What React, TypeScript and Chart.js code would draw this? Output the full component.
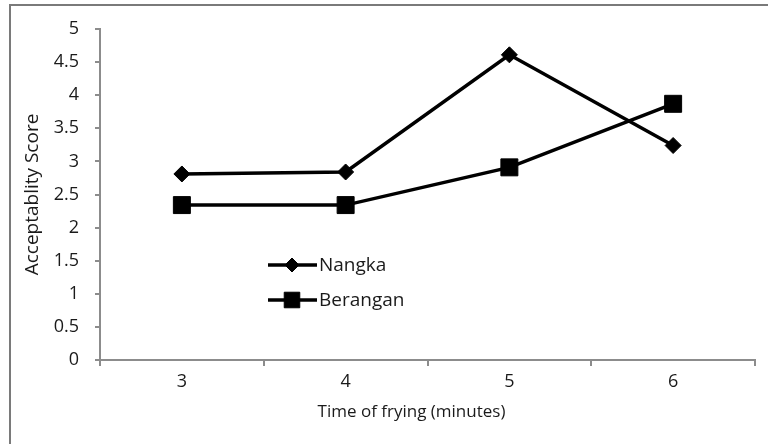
import React, { useEffect, useRef } from "react";
import { Chart, registerables } from "chart.js";

Chart.register(...registerables);

const categories = ["3", "4", "5", "6"];
const nangka = [2.81, 2.84, 4.61, 3.24];
const berangan = [2.34, 2.34, 2.91, 3.87];
const seriesNames = ["Nangka", "Berangan"];
const yTitle = "Acceptablity Score";
const xTitle = "Time of frying (minutes)";

const FONT = "'Open Sans', 'Noto Sans', sans-serif";
const AXIS = "#8c8c8c";
const TEXT = "#1a1a1a";

const framePlugin = {
  id: "frame",
  beforeDraw(chart: any) {
    const ctx = chart.ctx;
    ctx.save();
    ctx.fillStyle = "#ffffff";
    ctx.fillRect(0, 0, chart.width, chart.height);
    ctx.strokeStyle = "#7a7a7a";
    ctx.lineWidth = 2;
    ctx.strokeRect(10, 5, chart.width + 40, chart.height + 40);
    ctx.restore();
  },
};

const xTitlePlugin = {
  id: "xTitleShifted",
  afterDraw(chart: any) {
    const ctx = chart.ctx;
    const area = chart.chartArea;
    ctx.save();
    ctx.fillStyle = TEXT;
    ctx.font = `17px ${FONT}`;
    ctx.textAlign = "center";
    ctx.textBaseline = "middle";
    ctx.fillText(xTitle, (area.left + area.right) / 2 - 16, area.bottom + 52);
    ctx.restore();
  },
};

const legendPlugin = {
  id: "floatLegend",
  afterDraw(chart: any) {
    const ctx = chart.ctx;
    const x0 = 268;
    const rows = [265, 300];
    chart.data.datasets.forEach((ds: any, i: number) => {
      const y = rows[i];
      ctx.save();
      ctx.strokeStyle = ds.borderColor;
      ctx.lineWidth = ds.borderWidth;
      ctx.beginPath();
      ctx.moveTo(x0, y);
      ctx.lineTo(x0 + 49, y);
      ctx.stroke();
      ctx.fillStyle = ds.pointBackgroundColor;
      ctx.strokeStyle = ds.pointBorderColor;
      ctx.lineWidth = 1;
      const r = i === 0 ? 7 : 11;
      ctx.beginPath();
      if (ds.pointStyle === "rectRot") {
        ctx.moveTo(x0 + 24, y - r);
        ctx.lineTo(x0 + 24 + r, y);
        ctx.lineTo(x0 + 24, y + r);
        ctx.lineTo(x0 + 24 - r, y);
        ctx.closePath();
      } else {
        const s = r * Math.SQRT1_2;
        ctx.rect(x0 + 24 - s, y - s, 2 * s, 2 * s);
      }
      ctx.fill();
      ctx.stroke();
      ctx.fillStyle = TEXT;
      ctx.font = `19px ${FONT}`;
      ctx.textBaseline = "middle";
      ctx.textAlign = "left";
      ctx.fillText(ds.label, x0 + 51, y + 1);
      ctx.restore();
    });
  },
};

export default function App() {
  const ref = useRef<HTMLCanvasElement | null>(null);
  useEffect(() => {
    if (!ref.current) return;
    const chart = new Chart(ref.current, {
      type: "line",
      data: {
        labels: categories,
        datasets: [
          {
            label: seriesNames[0],
            data: nangka,
            borderColor: "#000000",
            borderWidth: 3.5,
            pointStyle: "rectRot",
            pointRadius: 8,
            pointBackgroundColor: "#000000",
            pointBorderColor: "#000000",
            pointBorderWidth: 1,
            tension: 0,
          },
          {
            label: seriesNames[1],
            data: berangan,
            borderColor: "#000000",
            borderWidth: 3.5,
            pointStyle: "rect",
            pointRadius: 12,
            pointBackgroundColor: "#000000",
            pointBorderColor: "#000000",
            pointBorderWidth: 1,
            tension: 0,
          },
        ],
      },
      options: {
        responsive: false,
        animation: false,
        layout: { padding: { left: 0, right: 12, top: 29, bottom: 0 } },
        plugins: {
          legend: { display: false },
          tooltip: { enabled: false },
        },
        scales: {
          x: {
            type: "category",
            offset: true,
            afterFit(scale: any) {
              scale.height = 84;
            },
            grid: {
              offset: true,
              drawOnChartArea: false,
              color: AXIS,
              tickLength: 6,
              lineWidth: 2,
            },
            border: { color: AXIS, width: 2 },
            ticks: {
              color: TEXT,
              font: { family: FONT, size: 18 },
              padding: 5,
            },
            title: { display: false },
          },
          y: {
            min: 0,
            max: 5,
            afterFit(scale: any) {
              scale.width = 100;
            },
            ticks: {
              stepSize: 0.5,
              color: TEXT,
              font: { family: FONT, size: 18 },
              padding: 16,
              callback: (v: any) => String(Number(v)),
            },
            grid: {
              drawOnChartArea: false,
              color: AXIS,
              tickLength: 5,
              lineWidth: 2,
            },
            border: { color: AXIS, width: 2 },
            title: {
              display: true,
              text: yTitle,
              color: TEXT,
              font: { family: FONT, size: 19 },
              padding: { top: 21, bottom: 0 },
            },
          },
        },
      },
      plugins: [framePlugin, legendPlugin, xTitlePlugin],
    } as any);
    return () => chart.destroy();
  }, []);
  return (
    <div style={{ position: "absolute", left: 0, top: 0, width: 768, height: 444 }}>
      <canvas ref={ref} width={768} height={444} style={{ display: "block" }} />
    </div>
  );
}
